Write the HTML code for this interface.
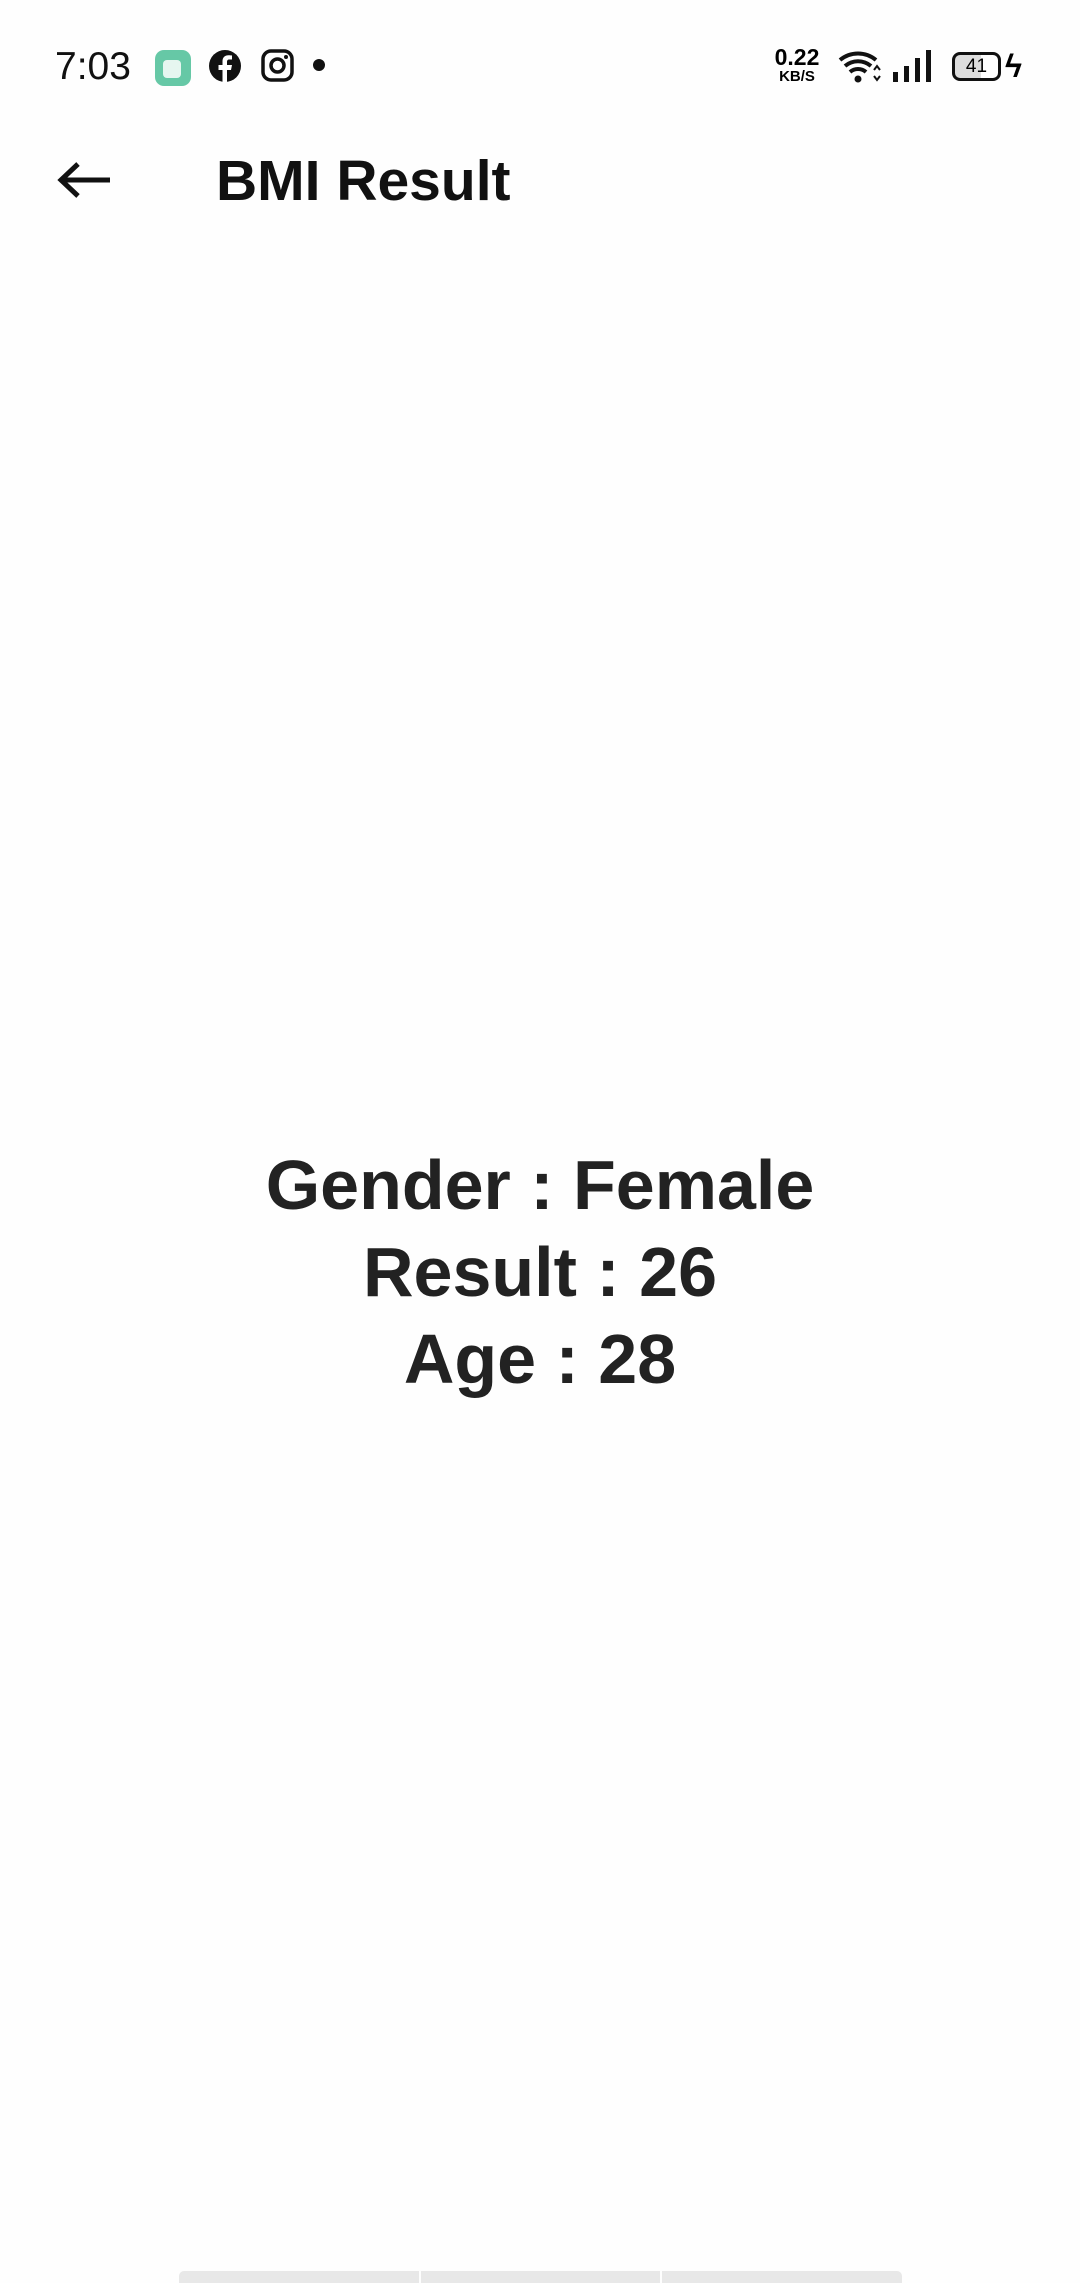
<!DOCTYPE html>
<html><head><meta charset="utf-8"><style>
*{margin:0;padding:0;box-sizing:border-box}
body{width:1080px;height:2280px;background:#fefefe;position:relative;overflow:hidden;font-family:"Liberation Sans",sans-serif;color:#000}
.abs{position:absolute}
</style></head><body>
<div class="abs" style="left:0;top:0;width:1080px;height:120px">
  <div class="abs" style="left:55px;top:45px;font-size:39px;color:#111">7:03</div>
  <div class="abs" style="left:155px;top:50px;width:36px;height:36px;border-radius:9px;background:#66c8a6"><div style="position:absolute;left:8px;top:10px;width:18px;height:18px;border-radius:4px;background:#e6f6f0"></div></div>
  <svg class="abs" style="left:208px;top:49px" width="34" height="34" viewBox="0 0 34 34"><circle cx="17" cy="17" r="16" fill="#111"/><path d="M19 34V21h4l1-5h-5v-3c0-1.5.5-2.5 2.5-2.5H24V6.5c-.5 0-2-.2-3.5-.2-3.5 0-6 2-6 6V16h-4v5h4v13z" fill="#fff"/></svg>
  <svg class="abs" style="left:261px;top:49px" width="33" height="33" viewBox="0 0 33 33"><rect x="2" y="2" width="29" height="29" rx="8" fill="none" stroke="#111" stroke-width="3.5"/><circle cx="16.5" cy="16.5" r="6.5" fill="none" stroke="#111" stroke-width="3.5"/><circle cx="25" cy="8" r="2" fill="#111"/></svg>
  <div class="abs" style="left:313px;top:59px;width:12px;height:12px;border-radius:50%;background:#111"></div>
  <div class="abs" style="left:770px;top:46px;width:54px;text-align:center;font-weight:bold;line-height:1">
    <div style="font-size:23px">0.22</div><div style="font-size:15px">KB/S</div></div>
  <svg class="abs" style="left:838px;top:50px" width="44" height="34" viewBox="0 0 44 34"><path d="M2 10a28 28 0 0 1 36 0M7 16a20 20 0 0 1 26 0M12 22a12 12 0 0 1 16 0" stroke="#111" stroke-width="4" fill="none"/><circle cx="20" cy="29" r="3.5" fill="#111"/><path d="M36 20l3-4 3 4M36 26l3 4 3-4" stroke="#111" stroke-width="2" fill="none"/></svg>
  <svg class="abs" style="left:893px;top:50px" width="40" height="32" viewBox="0 0 40 32"><rect x="0" y="22" width="5" height="10" fill="#111"/><rect x="11" y="16" width="5" height="16" fill="#111"/><rect x="22" y="8" width="5" height="24" fill="#111"/><rect x="33" y="0" width="5" height="32" fill="#111"/></svg>
  <div class="abs" style="left:952px;top:52px;width:49px;height:29px;border:3px solid #111;border-radius:8px;background:linear-gradient(90deg,#ddd 60%,#fff 60%);font-size:19px;text-align:center;line-height:23px">41</div>
  <div class="abs" style="left:1005px;top:48px;font-size:32px;font-weight:bold">ϟ</div>
</div>
<svg class="abs" style="left:56px;top:160px" width="56" height="40" viewBox="0 0 56 40"><path d="M54 20H6M22 4L5 20l17 16" stroke="#111" stroke-width="5" fill="none"/></svg>
<div class="abs" style="left:216px;top:148px;font-size:57px;font-weight:bold;color:#111">BMI Result</div>
<div class="abs" style="left:0;top:1142px;width:1080px;text-align:center;font-size:70px;font-weight:bold;line-height:87px;color:#222">
  <div>Gender : Female</div>
  <div>Result : 26</div>
  <div>Age : 28</div>
</div>
<div class="abs" style="left:179px;top:2271px;width:723px;height:12px;display:flex;gap:2px">
  <div style="flex:1;background:#e8e8e8;border-radius:5px 0 0 0"></div>
  <div style="flex:1;background:#e8e8e8"></div>
  <div style="flex:1;background:#e8e8e8;border-radius:0 5px 0 0"></div>
</div>
</body></html>
